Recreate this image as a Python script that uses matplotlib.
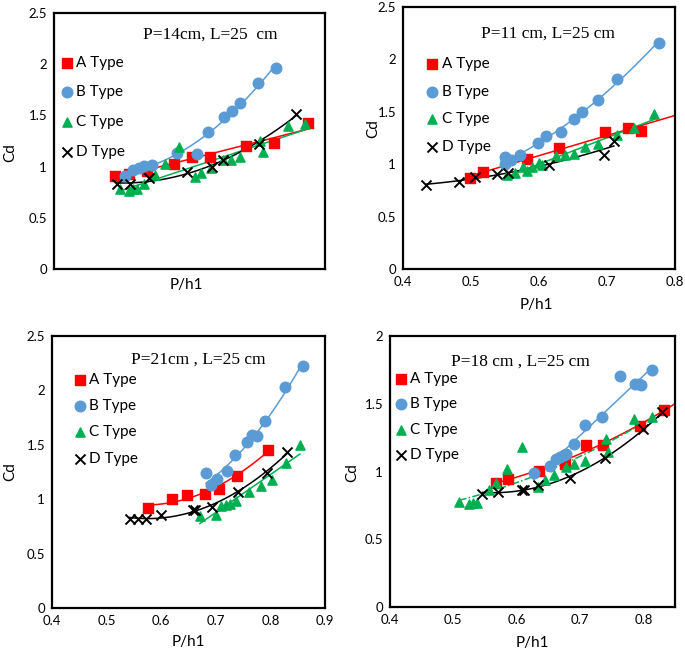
import matplotlib
matplotlib.use("Agg")
import matplotlib.pyplot as plt
from matplotlib.ticker import FuncFormatter, MultipleLocator
import numpy as np

# ---- data ----
# P = 14 cm
p14_a_x = [0.513, 0.539, 0.571, 0.621, 0.654, 0.687, 0.754, 0.806, 0.868]
p14_a_y = [0.911, 0.928, 0.956, 1.025, 1.097, 1.097, 1.204, 1.227, 1.426]
p14_b_x = [0.531, 0.546, 0.556, 0.566, 0.580, 0.627, 0.663, 0.685, 0.713, 0.728, 0.743, 0.777, 0.809]
p14_b_y = [0.911, 0.967, 0.983, 1.009, 1.019, 1.133, 1.126, 1.338, 1.481, 1.546, 1.618, 1.813, 1.960]
p14_c_x = [0.521, 0.539, 0.546, 0.553, 0.567, 0.586, 0.605, 0.631, 0.660, 0.672, 0.690, 0.712,
           0.727, 0.744, 0.781, 0.786, 0.832, 0.863]
p14_c_y = [0.778, 0.762, 0.778, 0.778, 0.830, 0.918, 1.025, 1.188, 0.902, 0.934, 0.983, 1.064,
           1.064, 1.091, 1.253, 1.139, 1.399, 1.416]
p14_d_x = [0.516, 0.541, 0.575, 0.646, 0.691, 0.712, 0.779, 0.846]
p14_d_y = [0.827, 0.830, 0.886, 0.950, 0.999, 1.064, 1.218, 1.514]

# P = 11 cm
p11_a_x = [0.499, 0.518, 0.583, 0.629, 0.697, 0.731, 0.750]
p11_a_y = [0.866, 0.930, 1.047, 1.158, 1.304, 1.348, 1.317]
p11_b_x = [0.550, 0.550, 0.559, 0.572, 0.598, 0.611, 0.632, 0.651, 0.663, 0.687, 0.715, 0.776]
p11_b_y = [1.066, 0.999, 1.041, 1.088, 1.206, 1.269, 1.304, 1.428, 1.494, 1.612, 1.815, 2.161]
p11_c_x = [0.553, 0.565, 0.576, 0.582, 0.589, 0.600, 0.604, 0.625, 0.638, 0.651, 0.668, 0.687,
           0.714, 0.739, 0.769]
p11_c_y = [0.898, 0.914, 0.977, 0.939, 0.977, 1.009, 0.993, 1.079, 1.088, 1.098, 1.168, 1.193,
           1.279, 1.342, 1.475]
p11_d_x = [0.434, 0.482, 0.506, 0.538, 0.555, 0.614, 0.695, 0.710]
p11_d_y = [0.803, 0.834, 0.882, 0.907, 0.920, 0.993, 1.088, 1.225]

# P = 21 cm
p21_a_x = [0.576, 0.619, 0.648, 0.680, 0.706, 0.739, 0.795]
p21_a_y = [0.918, 1.004, 1.043, 1.050, 1.095, 1.209, 1.453]
p21_b_x = [0.682, 0.692, 0.703, 0.721, 0.735, 0.758, 0.767, 0.776, 0.790, 0.827, 0.860]
p21_b_y = [1.239, 1.132, 1.184, 1.255, 1.408, 1.521, 1.591, 1.579, 1.714, 2.035, 2.225]
p21_c_x = [0.671, 0.700, 0.709, 0.718, 0.726, 0.737, 0.761, 0.782, 0.803, 0.828, 0.854]
p21_c_y = [0.841, 0.857, 0.933, 0.949, 0.955, 0.979, 1.062, 1.123, 1.178, 1.331, 1.499]
p21_d_x = [0.542, 0.558, 0.573, 0.599, 0.659, 0.662, 0.694, 0.741, 0.793, 0.830]
p21_d_y = [0.820, 0.820, 0.820, 0.851, 0.897, 0.903, 0.927, 1.065, 1.245, 1.432]

# P = 18 cm
p18_a_x = [0.568, 0.586, 0.635, 0.677, 0.709, 0.737, 0.794, 0.833]
p18_a_y = [0.918, 0.943, 1.005, 1.059, 1.196, 1.196, 1.337, 1.455]
p18_b_x = [0.627, 0.653, 0.662, 0.668, 0.674, 0.678, 0.690, 0.708, 0.735, 0.763, 0.787, 0.793, 0.797, 0.814]
p18_b_y = [0.990, 1.042, 1.089, 1.104, 1.119, 1.129, 1.200, 1.344, 1.401, 1.708, 1.646, 1.644, 1.641, 1.752]
p18_c_x = [0.509, 0.524, 0.531, 0.537, 0.557, 0.568, 0.585, 0.609, 0.633, 0.645, 0.659, 0.678,
           0.691, 0.708, 0.741, 0.745, 0.785, 0.813]
p18_c_y = [0.775, 0.757, 0.770, 0.770, 0.861, 0.918, 1.017, 1.183, 0.886, 0.936, 0.973, 1.035,
           1.059, 1.079, 1.240, 1.146, 1.389, 1.406]
p18_d_x = [0.546, 0.571, 0.608, 0.611, 0.633, 0.684, 0.740, 0.800, 0.830]
p18_d_y = [0.837, 0.849, 0.866, 0.861, 0.899, 0.953, 1.097, 1.314, 1.436]

labels = ["A Type", "B Type", "C Type", "D Type"]
titles = ["P=14cm, L=25  cm", "P=11 cm, L=25 cm", "P=21cm , L=25 cm", "P=18 cm , L=25 cm"]

RED, BLUE, GREEN, BLACK = "#ff0000", "#5b9bd5", "#00b050", "#000000"
styles = [dict(marker="s", color=RED, s=52),
          dict(marker="o", color=BLUE, s=58),
          dict(marker="^", color=GREEN, s=44),
          dict(marker="x", color=BLACK, s=52, linewidths=1.4)]
line_cols = [RED, BLUE, GREEN, BLACK]

panels = [
    dict(rect=[0.0788, 0.5874, 0.3956, 0.3926], xlim=(0.4, 0.9), ymax=2.5, xticks=False,
         series=[(p14_a_x, p14_a_y), (p14_b_x, p14_b_y), (p14_c_x, p14_c_y), (p14_d_x, p14_d_y)],
         deg=[1, 2, 1, 2], ext=[None, None, None, None], cls="-",
         title_xy=(0.576, 0.914), leg=(0.02, 0.833), lsp=1.02,
         cd=(-0.162, 0.453), ph=(0.49, -0.0625)),
    dict(rect=[0.5883, 0.5874, 0.3971, 0.4018], xlim=(0.4, 0.8), ymax=2.5, xticks=True,
         series=[(p11_a_x, p11_a_y), (p11_b_x, p11_b_y), (p11_c_x, p11_c_y), (p11_d_x, p11_d_y)],
         deg=[1, 2, 1, 2], ext=[0.8, None, None, None], cls="-",
         title_xy=(0.533, 0.90), leg=(0.08, 0.808), lsp=0.88,
         cd=(-0.11, 0.538), ph=(0.49, -0.137)),
    dict(rect=[0.0759, 0.0675, 0.3985, 0.4172], xlim=(0.4, 0.9), ymax=2.5, xticks=True,
         series=[(p21_a_x, p21_a_y), (p21_b_x, p21_b_y), (p21_c_x, p21_c_y), (p21_d_x, p21_d_y)],
         deg=[2, 2, 1, 2], ext=[None, None, None, None], cls="-",
         title_xy=(0.535, 0.912), leg=(0.075, 0.864), lsp=0.8,
         cd=(-0.154, 0.5), ph=(0.498, -0.125)),
    dict(rect=[0.5693, 0.0690, 0.4161, 0.4156], xlim=(0.4, 0.85), ymax=2.0, xticks=True,
         series=[(p18_a_x, p18_a_y), (p18_b_x, p18_b_y), (p18_c_x, p18_c_y), (p18_d_x, p18_d_y)],
         deg=[2, 1, 2, 2], ext=[0.85, None, None, None], cls=(0, (5, 1.5, 1, 1.5)),
         title_xy=(0.456, 0.904), leg=(0.012, 0.869), lsp=0.76,
         cd=(-0.133, 0.498), ph=(0.498, -0.133)),
]

SANS = ["Lato", "DejaVu Sans"]
plt.rcParams["font.family"] = SANS

fig = plt.figure(figsize=(6.85, 6.52), dpi=100)

for k, p in enumerate(panels):
    ax = fig.add_axes(p["rect"])
    for i, (xs, ys) in enumerate(p["series"]):
        xs = np.asarray(xs)
        ys = np.asarray(ys)
        coef = np.polyfit(xs, ys, p["deg"][i])
        xmax = p["ext"][i] if p["ext"][i] is not None else xs.max()
        xx = np.linspace(xs.min(), xmax, 100)
        ls = p["cls"] if i == 2 else "-"
        ax.plot(xx, np.polyval(coef, xx), color=line_cols[i], lw=1.1, ls=ls, zorder=2)
        ax.scatter(xs, ys, label=labels[i], zorder=3, **styles[i])

    ax.set_xlim(*p["xlim"])
    ax.set_ylim(0, p["ymax"])
    ax.yaxis.set_major_locator(MultipleLocator(0.5))
    ax.xaxis.set_major_locator(MultipleLocator(0.1))
    ax.yaxis.set_major_formatter(FuncFormatter(lambda v, _: "%g" % round(v, 2)))
    ax.xaxis.set_major_formatter(FuncFormatter(lambda v, _: "%g" % round(v, 2)))
    ax.tick_params(length=0, labelsize=9.5, pad=5)
    if not p["xticks"]:
        ax.set_xticklabels([])
    for sp in ax.spines.values():
        sp.set_linewidth(1.6)
        sp.set_color("black")

    # axis labels placed by their centres
    ax.set_ylabel("Cd", fontsize=11, va="center", ha="center")
    ax.yaxis.set_label_coords(*p["cd"])
    ax.set_xlabel("P/h1", fontsize=11, va="center", ha="center")
    ax.xaxis.set_label_coords(*p["ph"])

    ax.text(p["title_xy"][0], p["title_xy"][1], titles[k], transform=ax.transAxes,
            ha="center", va="center", fontsize=12.5, family=["Liberation Serif"])

    ax.legend(loc="upper left", bbox_to_anchor=p["leg"], frameon=False, fontsize=11,
              handletextpad=0.1, handlelength=1.0, borderaxespad=0, borderpad=0,
              labelspacing=p["lsp"], scatterpoints=1)

fig.savefig("out.png", dpi=100)
